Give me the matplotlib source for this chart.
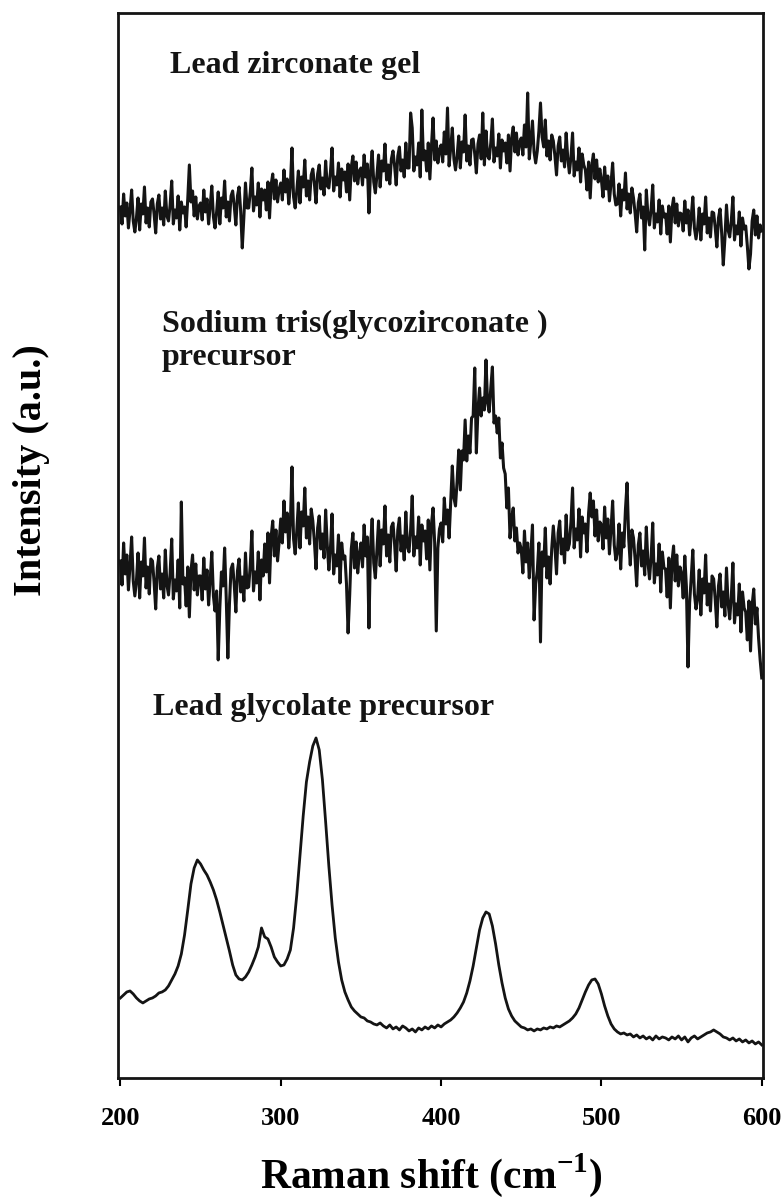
import numpy as np
import matplotlib.pyplot as plt

plt.rcParams['font.family'] = ['Liberation Serif', 'DejaVu Serif']
plt.rcParams['font.weight'] = 'bold'
plt.rcParams['mathtext.fontset'] = 'custom'
plt.rcParams['mathtext.rm'] = 'Liberation Serif'
plt.rcParams['mathtext.bf'] = 'Liberation Serif:bold'

# Raman shift (cm-1): noisy scans every 1 cm-1, glycolate scan every 2 cm-1
shift_fine = np.arange(200, 601, 1)
shift_coarse = np.arange(200, 602, 2)

# intensities (a.u.), the three spectra stacked on one scale
gel = [
    871, 854, 884, 862, 875, 850, 868, 888, 857, 846,
    860, 880, 848, 874, 864, 891, 855, 870, 851, 876,
    879, 864, 845, 874, 883, 859, 870, 853, 887, 862,
    857, 873, 897, 854, 868, 860, 882, 848, 876, 865,
    871, 851, 879, 913, 876, 887, 862, 881, 859, 872,
    875, 858, 888, 866, 879, 854, 872, 892, 861, 850,
    866, 886, 854, 880, 870, 897, 861, 876, 857, 882,
    887, 872, 853, 882, 891, 867, 830, 861, 895, 870,
    870, 886, 910, 867, 881, 873, 895, 861, 889, 878,
    888, 868, 896, 860, 893, 904, 879, 898, 876, 889,
    895, 878, 908, 886, 899, 874, 892, 930, 881, 870,
    887, 907, 875, 901, 891, 918, 882, 897, 878, 903,
    909, 894, 875, 904, 913, 889, 900, 883, 917, 892,
    890, 906, 930, 887, 901, 893, 915, 881, 909, 898,
    906, 886, 914, 878, 911, 922, 897, 916, 894, 907,
    910, 893, 923, 901, 914, 865, 907, 927, 896, 885,
    903, 923, 891, 917, 907, 934, 898, 913, 894, 919,
    927, 912, 893, 922, 931, 907, 918, 901, 935, 910,
    910, 965, 950, 907, 921, 913, 935, 901, 968, 918,
    927, 907, 935, 899, 932, 960, 918, 937, 915, 928,
    933, 916, 946, 924, 970, 912, 930, 950, 919, 908,
    922, 942, 910, 936, 926, 963, 917, 932, 913, 938,
    939, 924, 905, 934, 943, 919, 965, 913, 947, 922,
    919, 935, 959, 916, 930, 922, 944, 910, 938, 927,
    935, 915, 943, 907, 940, 951, 926, 945, 923, 936,
    940, 923, 953, 931, 985, 919, 937, 957, 926, 915,
    927, 947, 975, 941, 931, 958, 922, 937, 918, 943,
    937, 922, 903, 932, 941, 917, 928, 911, 945, 920,
    905, 921, 945, 902, 916, 908, 930, 896, 924, 913,
    908, 888, 916, 880, 913, 924, 899, 918, 896, 909,
    898, 881, 911, 889, 902, 877, 895, 915, 884, 873,
    874, 894, 862, 888, 878, 905, 869, 884, 865, 890,
    880, 865, 846, 875, 884, 860, 871, 828, 888, 863,
    853, 869, 893, 850, 864, 856, 878, 844, 872, 861,
    864, 844, 872, 836, 869, 880, 855, 874, 852, 865,
    864, 847, 877, 855, 868, 843, 861, 881, 850, 839,
    850, 870, 838, 864, 854, 881, 845, 860, 841, 866,
    865, 850, 831, 860, 869, 845, 813, 839, 873, 848,
    841, 857, 881, 838, 852, 844, 866, 832, 860, 849,
    852, 832, 809, 824, 857, 868, 843, 862, 840, 853,
    847,
]

na_precursor = [
    517, 493, 535, 504, 523, 488, 513, 541, 497, 482,
    497, 525, 480, 516, 502, 540, 490, 511, 484, 519,
    517, 496, 469, 510, 522, 489, 504, 480, 528, 493,
    483, 505, 539, 479, 498, 487, 518, 470, 576, 494,
    500, 472, 511, 461, 507, 523, 488, 514, 483, 502,
    502, 478, 520, 489, 508, 473, 498, 526, 482, 467,
    487, 418, 470, 506, 492, 530, 480, 420, 474, 509,
    514, 493, 466, 507, 519, 486, 501, 477, 525, 490,
    491, 513, 547, 487, 506, 495, 526, 478, 518, 502,
    534, 506, 545, 495, 541, 557, 522, 548, 517, 536,
    559, 535, 577, 546, 565, 530, 555, 611, 539, 524,
    547, 575, 530, 566, 552, 590, 540, 561, 534, 569,
    557, 536, 509, 550, 562, 529, 544, 520, 568, 533,
    508, 530, 564, 504, 523, 512, 543, 495, 535, 519,
    522, 494, 445, 483, 529, 545, 510, 536, 505, 524,
    535, 511, 553, 522, 541, 450, 531, 559, 515, 500,
    529, 557, 512, 548, 534, 572, 522, 543, 516, 551,
    555, 534, 507, 548, 560, 527, 542, 518, 566, 531,
    526, 548, 582, 522, 541, 530, 561, 513, 553, 537,
    547, 519, 558, 508, 554, 570, 535, 447, 530, 549,
    555, 536, 580, 554, 568, 540, 575, 612, 580, 572,
    597, 628, 588, 627, 618, 658, 617, 642, 625, 660,
    662, 710, 625, 668, 690, 662, 680, 668, 718, 675,
    666, 690, 711, 655, 662, 645, 660, 620, 635, 610,
    604, 570, 590, 540, 560, 570, 537, 550, 525, 535,
    529, 505, 547, 516, 535, 500, 525, 553, 458, 494,
    507, 535, 436, 526, 512, 550, 500, 521, 494, 529,
    552, 531, 504, 545, 557, 524, 539, 515, 563, 528,
    534, 556, 590, 530, 549, 538, 569, 521, 561, 545,
    554, 526, 565, 585, 561, 577, 542, 568, 537, 556,
    553, 529, 571, 540, 559, 524, 549, 577, 533, 518,
    526, 554, 509, 545, 531, 569, 595, 540, 513, 548,
    540, 519, 492, 533, 545, 512, 527, 503, 551, 516,
    499, 521, 555, 495, 514, 503, 534, 486, 526, 510,
    509, 481, 520, 470, 516, 532, 497, 523, 492, 511,
    504, 480, 522, 491, 411, 475, 500, 528, 484, 469,
    480, 508, 463, 499, 485, 523, 473, 494, 467, 502,
    499, 478, 451, 492, 504, 471, 486, 462, 510, 475,
    459, 481, 515, 455, 474, 463, 494, 446, 486, 470,
    466, 438, 477, 427, 473, 489, 454, 470, 440, 418,
    400,
]

pb_glycolate = [
    80, 83, 86, 87, 84, 80, 77, 75, 77, 79,
    80, 82, 85, 86, 88, 92, 98, 104, 112, 124,
    143, 168, 194, 210, 218, 214, 208, 203, 196, 188,
    178, 166, 153, 140, 127, 113, 103, 99, 98, 101,
    106, 113, 121, 131, 150, 141, 139, 131, 121, 116,
    112, 113, 119, 128, 150, 183, 222, 262, 296, 316,
    332, 340, 328, 298, 256, 212, 173, 140, 116, 98,
    86, 78, 71, 67, 64, 61, 60, 57, 56, 54,
    53, 55, 52, 50, 53, 49, 51, 48, 52, 50,
    47, 49, 46, 50, 48, 51, 49, 52, 50, 53,
    51, 54, 56, 58, 61, 65, 70, 76, 85, 97,
    112, 130, 148, 160, 166, 164, 152, 134, 113, 95,
    80, 69, 62, 57, 54, 51, 50, 48, 49, 47,
    49, 48, 50, 49, 51, 50, 52, 51, 53, 55,
    57, 60, 64, 70, 78, 86, 93, 98, 99, 94,
    84, 72, 62, 54, 49, 46, 44, 45, 43, 44,
    41, 43, 40, 42, 39, 41, 38, 42, 39, 41,
    40, 38, 41, 39, 42, 38, 41, 36, 40, 42,
    39, 41, 43, 45, 46, 48, 46, 44, 41, 40,
    38, 40, 37, 39, 36, 38, 35, 37, 34, 36,
    33,
]

x_ticks = [200, 300, 400, 500, 600]

fig = plt.figure(figsize=(7.81, 12.02), dpi=100)
ax = fig.add_axes([0.1511, 0.1032, 0.8259, 0.886])

ink = '#141414'
ax.plot(shift_fine, gel, color=ink, lw=2.2)
ax.plot(shift_fine, na_precursor, color=ink, lw=2.2)
ax.plot(shift_coarse, pb_glycolate, color=ink, lw=2.0)

ax.set_xlim(198.5, 600.8)
ax.set_ylim(0, 1065)
ax.set_xticks(x_ticks)
ax.set_xticklabels([str(t) for t in x_ticks])
ax.set_yticks([])
ax.tick_params(axis='x', direction='out', length=6, width=1.5, pad=15,
               labelsize=19)
for sp in ax.spines.values():
    sp.set_linewidth(2.0)
    sp.set_color(ink)

ax.set_xlabel(r'Raman shift (cm$^{\mathbf{-1}}$)', fontsize=30, fontweight='bold')
ax.xaxis.label.set_verticalalignment('baseline')
ax.xaxis.set_label_coords(0.485, -0.1033)
ax.set_ylabel('Intensity (a.u.)', fontsize=29, fontweight='bold')
ax.yaxis.set_label_coords(-0.105, 0.571)

label_kw = dict(transform=ax.transAxes, fontsize=23, fontweight='bold',
                va='baseline', ha='left', color=ink)
ax.text(0.0806, 0.9437, 'Lead zirconate gel', **label_kw)
ax.text(0.0682, 0.7005, 'Sodium tris(glycozirconate )', **label_kw)
ax.text(0.0682, 0.6695, 'precursor', **label_kw)
ax.text(0.0543, 0.3408, 'Lead glycolate precursor', **label_kw)

fig.savefig('out.png', dpi=100)
